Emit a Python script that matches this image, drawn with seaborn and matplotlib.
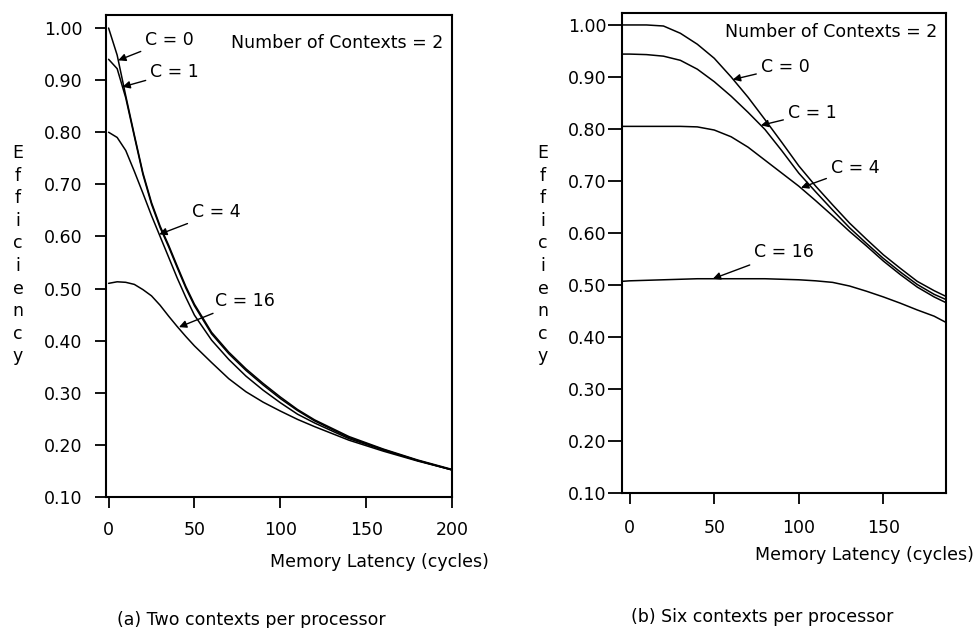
import matplotlib
matplotlib.use("Agg")
import matplotlib.pyplot as plt
import seaborn as sns
import pandas as pd

# ---------------- data ----------------
# (a) Two contexts per processor
x_a = [0, 5, 10, 15, 20, 25, 30, 35, 40, 45, 50, 60, 70, 80, 90, 100, 110, 120, 140, 160, 180, 200]
a_c0 = [1.00, 0.948, 0.870, 0.795, 0.722, 0.665, 0.620, 0.583, 0.543, 0.504, 0.470, 0.416, 0.378, 0.346,
        0.318, 0.292, 0.268, 0.248, 0.216, 0.192, 0.171, 0.153]
a_c1 = [0.940, 0.922, 0.866, 0.792, 0.719, 0.662, 0.617, 0.580, 0.540, 0.501, 0.467, 0.413, 0.375, 0.343,
        0.315, 0.289, 0.266, 0.246, 0.214, 0.191, 0.170, 0.152]
a_c4 = [0.800, 0.790, 0.765, 0.725, 0.683, 0.640, 0.600, 0.560, 0.520, 0.483, 0.449, 0.401, 0.364, 0.332,
        0.305, 0.281, 0.259, 0.242, 0.212, 0.190, 0.170, 0.152]
a_c16 = [0.510, 0.513, 0.512, 0.508, 0.498, 0.486, 0.468, 0.447, 0.427, 0.408, 0.390, 0.358, 0.327, 0.302,
         0.282, 0.265, 0.249, 0.235, 0.209, 0.188, 0.169, 0.152]

# (b) Six contexts per processor
x_b = [-4.5, 0, 10, 20, 30, 40, 50, 60, 70, 80, 90, 100, 110, 120, 130, 140, 150, 160, 170, 180, 187]
b_c0 = [1.00, 1.00, 1.00, 0.998, 0.984, 0.963, 0.936, 0.900, 0.861, 0.818, 0.774, 0.729, 0.690, 0.654,
        0.619, 0.588, 0.558, 0.532, 0.507, 0.489, 0.478]
b_c1 = [0.944, 0.944, 0.943, 0.940, 0.932, 0.915, 0.891, 0.863, 0.832, 0.799, 0.758, 0.715, 0.679, 0.644,
        0.610, 0.580, 0.551, 0.525, 0.501, 0.482, 0.472]
b_c4 = [0.805, 0.805, 0.805, 0.805, 0.805, 0.804, 0.798, 0.785, 0.765, 0.740, 0.715, 0.690, 0.662, 0.633,
        0.603, 0.575, 0.546, 0.520, 0.496, 0.477, 0.466]
b_c16 = [0.507, 0.508, 0.509, 0.510, 0.511, 0.512, 0.512, 0.512, 0.512, 0.512, 0.511, 0.510, 0.508, 0.505,
         0.498, 0.488, 0.477, 0.465, 0.452, 0.440, 0.428]

series_names = ["C = 0", "C = 1", "C = 4", "C = 16"]
y_ticks = [0.10, 0.20, 0.30, 0.40, 0.50, 0.60, 0.70, 0.80, 0.90, 1.00]
x_ticks_a = [0, 50, 100, 150, 200]
x_ticks_b = [0, 50, 100, 150]
y_label = "Efficiency"
x_label = "Memory Latency (cycles)"
title_note = "Number of Contexts = 2"
caption_a = "(a) Two contexts per processor"
caption_b = "(b) Six contexts per processor"

# ---------------- style ----------------
sns.set_style("ticks")
plt.rcParams["font.family"] = ["DejaVu Sans"]
plt.rcParams["text.color"] = "black"
plt.rcParams["axes.labelcolor"] = "black"
plt.rcParams["xtick.color"] = "black"
plt.rcParams["ytick.color"] = "black"
FS = 12.5

W, H = 979, 628
fig = plt.figure(figsize=(W / 100, H / 100), dpi=100)
fig.patch.set_facecolor("white")


def px_axes(l, t, r, b):
    return fig.add_axes([l / W, 1 - b / H, (r - l) / W, (b - t) / H])


ax1 = px_axes(106, 15, 452, 497)
ax2 = px_axes(622, 13, 946, 493)


def draw(ax, xs, ys_list):
    rows = []
    for name, ys in zip(series_names, ys_list):
        for xv, yv in zip(xs, ys):
            rows.append({"x": xv, "y": yv, "series": name})
    df = pd.DataFrame(rows)
    sns.lineplot(data=df, x="x", y="y", hue="series", palette=["black"] * 4,
                 ax=ax, linewidth=1.1, legend=False, sort=False, estimator=None)


draw(ax1, x_a, [a_c0, a_c1, a_c4, a_c16])
draw(ax2, x_b, [b_c0, b_c1, b_c4, b_c16])

for ax in (ax1, ax2):
    ax.set_xlabel("")
    ax.set_ylabel("")
    ax.set_yticks(y_ticks)
    ax.set_yticklabels([f"{v:.2f}" for v in y_ticks], fontsize=FS, color="black")
    for s in ax.spines.values():
        s.set_visible(True)
        s.set_linewidth(1.5)
        s.set_color("black")
    ax.tick_params(axis="both", direction="out", length=8, width=1.3, colors="black",
                   labelsize=FS)
    ax.set_facecolor("white")

ax1.set_xlim(-1.5, 200)
ax1.set_ylim(0.10, 1.025)
ax1.set_xticks(x_ticks_a)
ax1.set_xticklabels([str(v) for v in x_ticks_a], fontsize=FS, color="black")
ax1.tick_params(axis="y", pad=9)
ax1.tick_params(axis="x", pad=9)

ax2.set_xlim(-4.5, 187)
ax2.set_ylim(0.10, 1.023)
ax2.set_xticks(x_ticks_b)
ax2.set_xticklabels([str(v) for v in x_ticks_b], fontsize=FS, color="black")
ax2.tick_params(axis="y", pad=1, length=10)
ax2.tick_params(axis="x", pad=11)

arrow = dict(arrowstyle="-|>", color="black", lw=1.0, mutation_scale=11,
             shrinkA=1, shrinkB=0)

# annotations (a)
ax1.text(71.1, 0.971, title_note, fontsize=FS, va="center", ha="left", color="black")
ann_a = [("C = 0", (5.6, 0.938), (21.4, 0.977)),
         ("C = 1", (8.1, 0.887), (24.3, 0.915)),
         ("C = 4", (29.5, 0.604), (48.6, 0.646)),
         ("C = 16", (41.0, 0.426), (61.8, 0.477))]
for lab, tip, txt in ann_a:
    ax1.annotate(lab, xy=tip, xytext=txt, fontsize=FS, ha="left", va="center",
                 color="black", arrowprops=arrow)

# annotations (b)
ax2.text(56.3, 0.987, title_note, fontsize=FS, va="center", ha="left", color="black")
ann_b = [("C = 0", (61.0, 0.895), (77.6, 0.919)),
         ("C = 1", (77.6, 0.807), (93.6, 0.831)),
         ("C = 4", (101.3, 0.687), (119.0, 0.725)),
         ("C = 16", (49.2, 0.512), (73.5, 0.563))]
for lab, tip, txt in ann_b:
    ax2.annotate(lab, xy=tip, xytext=txt, fontsize=FS, ha="left", va="center",
                 color="black", arrowprops=arrow)

# stacked y labels
for xc in (18, 543):
    for i, ch in enumerate(y_label):
        fig.text(xc / W, 1 - (153 + i * 22.6) / H, ch, fontsize=FS, ha="center",
                 va="center", color="black")

# x labels
fig.text(379 / W, 1 - 562 / H, x_label, fontsize=FS, ha="center", va="center", color="black")
fig.text(864 / W, 1 - 555 / H, x_label, fontsize=FS, ha="center", va="center", color="black")

# captions
fig.text(251 / W, 1 - 620 / H, caption_a, fontsize=FS, ha="center", va="center", color="black")
fig.text(762 / W, 1 - 617 / H, caption_b, fontsize=FS, ha="center", va="center", color="black")

fig.savefig("out.png", dpi=100, facecolor="white")
